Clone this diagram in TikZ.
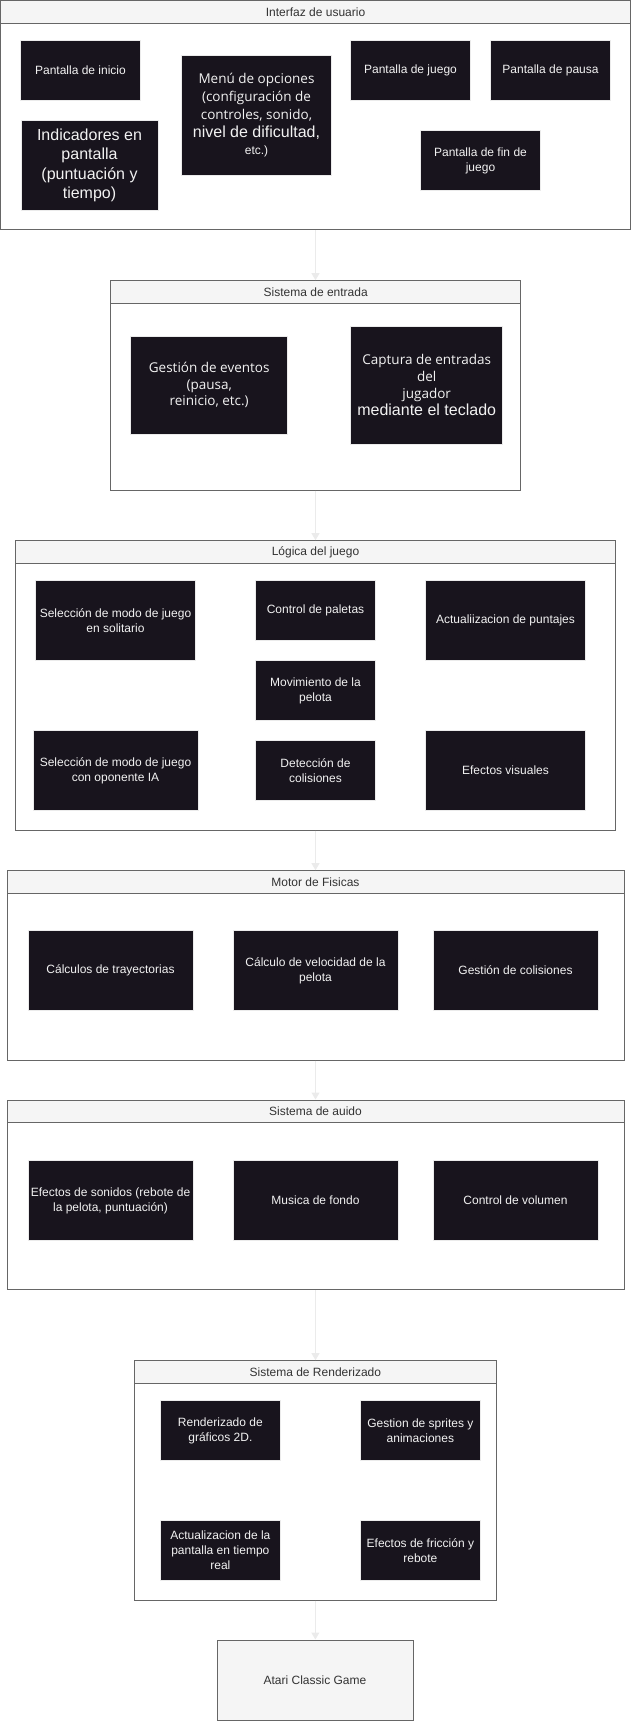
\documentclass[tikz,border=0pt]{standalone}
\usepackage{fontspec}
\setmainfont{Liberation Sans}
\newfontfamily\humfont{Open Sans}
\usetikzlibrary{arrows.meta}

\definecolor{boxfill}{HTML}{18141D}
\definecolor{boxtext}{HTML}{F2F2F2}
\definecolor{frame}{HTML}{666666}
\definecolor{headfill}{HTML}{F5F5F5}
\definecolor{titletext}{HTML}{333333}
\definecolor{linkgray}{HTML}{EBEBEB}

\begin{document}
\begin{tikzpicture}[x=1pt,y=-1pt,
  group/.style={draw=frame, line width=1pt, inner sep=0pt, fill=white},
  grouphead/.style={draw=frame, line width=1pt, fill=headfill, inner sep=0pt,
    minimum height=22.5pt, anchor=north, text=titletext,
    font=\fontsize{12}{14}\selectfont},
  blk/.style={fill=boxfill, draw=white!92!black, line width=0.6pt, text=boxtext,
    align=center, inner xsep=0pt, inner ysep=2pt,
    font=\fontsize{12}{15}\selectfont},
  small/.style={blk, minimum width=120pt, minimum height=60pt},
  wide/.style={blk, minimum width=160pt, minimum height=80pt},
  wider/.style={blk, minimum width=165pt, minimum height=80pt},
  conn/.style={draw=linkgray, line width=1pt, -{Triangle[width=8pt,length=7pt]}},
  final/.style={draw=frame, line width=1pt, fill=headfill, text=titletext,
    font=\fontsize{12}{14}\selectfont}
]
\useasboundingbox (0,0) rectangle (631,1721);

% ---------- Interfaz de usuario ----------
\node[group, minimum width=630pt, minimum height=229pt] (ui) at (315.5,115) {};
\node[grouphead, minimum width=630pt] (uihead) at (ui.north) {Interfaz de usuario};
\node[small] (inicio) at (80.5,70.5) {Pantalla de inicio};
\node[blk, minimum width=150pt, minimum height=120pt,
  font=\humfont\fontsize{13.5}{17.75}\selectfont] (menu) at (256.5,115.5)
  {Menú de opciones\\(configuración de\\controles, sonido,\\
   {\rmfamily\fontsize{16}{17.75}\selectfont nivel de dificultad,}\\
   {\rmfamily\fontsize{12}{17.75}\selectfont etc.)}};
\node[small] (juego) at (410.5,70.5) {Pantalla de juego};
\node[small] (pausa) at (550.5,70.5) {Pantalla de pausa};
\node[blk, minimum width=137pt, minimum height=90pt,
  font=\fontsize{16}{19.5}\selectfont] (indic) at (89.5,165.5)
  {Indicadores en\\pantalla\\(puntuación y\\tiempo)};
\node[small] (fin) at (480.5,160.5) {Pantalla de fin de\\juego};

% ---------- Sistema de entrada ----------
\node[group, minimum width=410pt, minimum height=209.3pt] (ent) at (315.7,385.35) {};
\node[grouphead, minimum width=410pt] (enthead) at (ent.north) {Sistema de entrada};
\node[blk, minimum width=157pt, minimum height=98.7pt,
  font=\humfont\fontsize{13.5}{16.5}\selectfont] (eventos) at (209.2,385.35)
  {Gestión de eventos\\(pausa,\\reinicio, etc.)};
\node[blk, minimum width=152pt, minimum height=118.7pt,
  font=\humfont\fontsize{13.5}{17}\selectfont] (captura) at (426.7,385.35)
  {Captura de entradas\\del\\jugador\\
   {\rmfamily\fontsize{16}{17}\selectfont mediante el teclado}};

% ---------- Lógica del juego ----------
\node[group, minimum width=600.4pt, minimum height=289.3pt] (logica) at (315.5,685.35) {};
\node[grouphead, minimum width=600.4pt] (logicahead) at (logica.north) {Lógica del juego};
\node[wide] (solo) at (115.5,620.5) {Selección de modo de juego\\en solitario};
\node[small] (paletas) at (315.5,610.5) {Control de paletas};
\node[wide] (puntajes) at (505.5,620.5) {Actualiizacion de puntajes};
\node[small] (movim) at (315.5,690.5) {Movimiento de la\\pelota};
\node[wider] (ia) at (115.5,770.5) {Selección de modo de juego\\con oponente IA};
\node[small] (detec) at (315.5,770.5) {Detección de\\colisiones};
\node[wide] (visual) at (505.5,770.5) {Efectos visuales};

% ---------- Motor de Fisicas ----------
\node[group, minimum width=617pt, minimum height=189.3pt] (motor) at (315.5,965.35) {};
\node[grouphead, minimum width=617pt] (motorhead) at (motor.north) {Motor de Fisicas};
\node[wider] (trayect) at (110.5,970.5) {Cálculos de trayectorias};
\node[wider] (veloc) at (315.5,970.5) {Cálculo de velocidad de la\\pelota};
\node[wider] (colis) at (515.5,970.5) {Gestión de colisiones};

% ---------- Sistema de auido ----------
\node[group, minimum width=617pt, minimum height=189.5pt] (audio) at (315.5,1194.75) {};
\node[grouphead, minimum width=617pt] (audiohead) at (audio.north) {Sistema de auido};
\node[wider] (sonidos) at (110.5,1200.5) {Efectos de sonidos (rebote de\\la pelota, puntuación)};
\node[wider] (musica) at (315.5,1200.5) {Musica de fondo};
\node[wider] (volumen) at (515.5,1200.5) {Control de volumen};

% ---------- Sistema de Renderizado ----------
\node[group, minimum width=362.7pt, minimum height=239.3pt] (render) at (315.35,1480.35) {};
\node[grouphead, minimum width=362.7pt] (renderhead) at (render.north) {Sistema de Renderizado};
\node[small] (graf) at (220.35,1430.5) {Renderizado de\\gráficos 2D.};
\node[small] (sprites) at (420.35,1430.5) {Gestion de sprites y\\animaciones};
\node[small] (actual) at (220.35,1550.5) {Actualizacion de la\\pantalla en tiempo\\real};
\node[small] (friccion) at (420.35,1550.5) {Efectos de fricción y\\rebote};

% ---------- Resultado ----------
\node[final, minimum width=196pt, minimum height=80pt] (atari) at (315,1680) {Atari Classic Game};

% ---------- Conexiones entre capas ----------
\draw[conn] (ui.south) -- (ui.south |- ent.north);
\draw[conn] (ent.south -| ui.south) -- (ui.south |- logica.north);
\draw[conn] (logica.south) -- (logica.south |- motor.north);
\draw[conn] (motor.south) -- (motor.south |- audio.north);
\draw[conn] (audio.south) -- (audio.south |- render.north);
\draw[conn] (render.south) -- (render.south |- atari.north);
\end{tikzpicture}
\end{document}
